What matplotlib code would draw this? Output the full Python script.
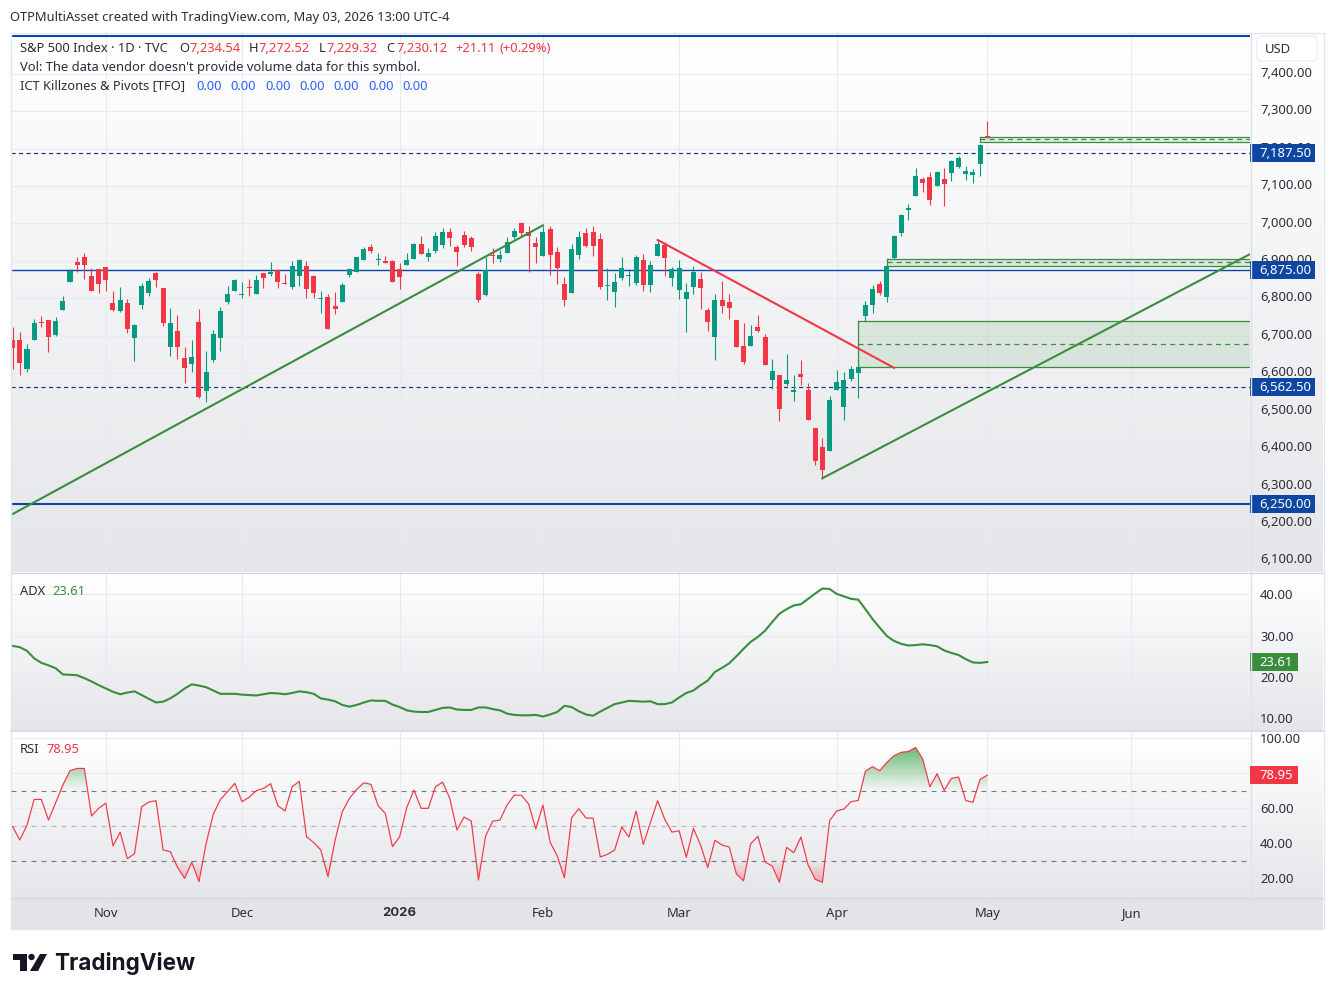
#!/usr/bin/env python
# S&P 500 daily candles with ADX and RSI panes, TradingView style
import numpy as np
import matplotlib; matplotlib.use('Agg')
import matplotlib.pyplot as plt
from matplotlib.path import Path
from matplotlib.patches import Polygon, Circle, Rectangle, FancyBboxPatch
from matplotlib.transforms import ScaledTranslation
from matplotlib.font_manager import FontProperties

plt.rcParams['font.family'] = ['Noto Sans', 'DejaVu Sans']
plt.rcParams['lines.scale_dashes'] = False

opens = [6688,6688,6611,6688,6737,6742,6702,6768,6843,6897,
         6910,6859,6878,6883,6787,6766,6787,6694,6782,6814,
         6867,6827,6670,6712,6640,6624,6736,6552,6635,6694,
         6790,6819,6809,6830,6811,6867,6865,6875,6841,6830,
         6859,6886,6859,6798,6803,6779,6790,6862,6870,6902,
         6937,6902,6900,6900,6878,6889,6905,6945,6910,6926,
         6942,6977,6937,6969,6961,6865,6809,6916,6905,6921,
         6964,7001,6977,6948,6913,6985,6924,6838,6814,6916,
         6975,6977,6958,6833,6817,6854,6860,6841,6902,6836,
         6913,6942,6854,6822,6798,6830,6852,6769,6697,6796,
         6790,6742,6673,6673,6723,6697,6582,6595,6571,6550,
         6598,6555,6453,6403,6392,6555,6510,6584,6600,6752,
         6782,6838,6803,6907,6974,7036,7073,7119,7124,7100,
         7119,7135,7151,7132,7129,7159,7234.54]
highs = [6724,6710,6678,6744,6752,6742,6750,6806,6878,6910,
         6921,6881,6878,6883,6819,6830,6798,6731,6841,6854,
         6870,6827,6774,6755,6670,6688,6771,6659,6715,6776,
         6833,6851,6843,6851,6862,6867,6897,6878,6865,6899,
         6905,6899,6862,6819,6811,6817,6841,6881,6910,6937,
         6945,6921,6913,6902,6894,6921,6948,6967,6934,6977,
         6988,6988,6942,6980,6966,6870,6910,6934,6929,6964,
         6988,7004,6993,6964,6993,6993,6937,6857,6945,6980,
         6988,6993,6975,6881,6868,6910,6878,6916,6918,6900,
         6956,6950,6884,6903,6841,6887,6870,6774,6812,6846,
         6812,6742,6734,6729,6755,6705,6638,6595,6651,6595,
         6635,6574,6453,6427,6539,6609,6603,6619,6620,6792,
         6835,6846,6890,6969,7025,7052,7148,7124,7137,7140,
         7148,7169,7180,7153,7145,7212,7272.52]
lows = [6611,6595,6603,6688,6724,6656,6699,6768,6843,6870,
        6851,6819,6814,6819,6766,6763,6707,6632,6771,6806,
        6830,6726,6645,6637,6573,6603,6533,6523,6629,6659,
        6784,6819,6801,6806,6811,6827,6859,6827,6838,6825,
        6833,6801,6801,6760,6718,6758,6790,6857,6870,6902,
        6921,6889,6894,6844,6825,6889,6905,6918,6900,6921,
        6934,6940,6886,6937,6926,6790,6806,6894,6897,6921,
        6958,6964,6870,6894,6913,6862,6838,6779,6814,6905,
        6937,6913,6825,6795,6777,6849,6833,6836,6820,6817,
        6913,6860,6833,6798,6710,6812,6772,6713,6635,6761,
        6745,6670,6625,6673,6710,6622,6558,6472,6566,6526,
        6568,6475,6355,6317,6392,6555,6475,6579,6533,6739,
        6760,6809,6790,6905,6966,7009,7073,7084,7049,7100,
        7046,7113,7148,7116,7108,7127,7229.32]
closes = [6668,6627,6664,6734,6734,6696,6739,6792,6874,6889,
          6889,6819,6838,6849,6768,6795,6718,6728,6833,6846,
          6849,6734,6734,6670,6613,6643,6536,6603,6704,6766,
          6811,6849,6811,6828,6849,6854,6870,6843,6838,6886,
          6902,6825,6814,6801,6718,6771,6836,6878,6910,6932,
          6926,6905,6894,6844,6857,6902,6945,6918,6921,6967,
          6977,6961,6924,6942,6937,6795,6875,6913,6916,6950,
          6980,6975,6966,6937,6977,6916,6881,6795,6932,6964,
          6940,6940,6830,6836,6844,6881,6862,6910,6836,6889,
          6945,6908,6878,6881,6817,6870,6828,6737,6796,6780,
          6774,6670,6630,6699,6713,6622,6606,6504,6582,6555,
          6590,6475,6365,6341,6528,6576,6582,6611,6616,6782,
          6825,6814,6886,6966,7022,7041,7127,7108,7062,7137,
          7105,7167,7175,7140,7137,7209.01,7230.12]

adx = [27.5,27.2,26.3,24.5,23.4,22.8,22.1,20.6,20.5,20.4,
       19.7,18.9,18.0,17.2,16.4,15.8,16.2,16.5,15.6,14.7,
       13.8,14.0,14.8,15.9,17.2,18.2,17.9,17.5,16.7,15.9,
       15.9,15.9,15.7,15.6,15.5,15.8,16.1,16.0,15.8,16.1,
       16.5,16.3,15.9,14.8,14.5,14.1,13.2,12.8,13.2,13.8,
       14.3,14.2,14.2,13.3,12.7,11.9,11.6,11.5,11.5,12.0,
       12.5,12.6,12.1,12.0,12.0,12.6,12.6,12.2,11.9,11.1,
       10.8,10.7,10.7,10.8,10.4,10.9,11.5,13.0,12.7,11.7,
       10.9,10.6,11.6,12.5,13.4,13.8,14.2,14.1,14.0,14.1,
       13.4,13.4,13.8,15.0,16.1,16.7,18.0,19.1,21.2,22.2,
       23.3,25.0,26.8,28.5,29.7,31.2,33.3,35.3,36.4,37.3,
       37.6,38.9,40.2,41.4,41.3,40.1,39.5,38.9,38.7,36.4,
       34.0,31.9,29.9,28.7,28.0,27.6,27.7,27.9,27.7,27.4,
       26.4,25.8,25.3,24.3,23.5,23.4,23.61]

rsi = [49.5,41.9,50.4,65.1,65.1,53.3,63.2,73.3,81.5,82.8,
       82.8,55.6,60.0,63.0,38.5,46.4,31.2,34.1,60.9,63.6,
       64.4,36.2,35.2,26.3,20.0,29.1,18.1,40.0,56.7,65.1,
       69.5,74.3,63.8,66.3,70.1,71.4,74.1,61.5,58.5,72.3,
       75.4,43.8,40.5,36.2,20.9,41.9,58.1,65.7,70.8,74.6,
       73.7,61.5,57.1,38.1,43.8,60.5,70.5,60.0,60.0,72.3,
       75.0,65.7,47.6,55.0,52.7,19.0,44.2,52.7,53.3,61.9,
       67.6,67.4,62.5,48.2,61.9,40.7,32.7,20.3,54.6,59.8,
       54.5,54.3,32.2,33.7,36.2,49.3,43.6,58.5,39.4,51.8,
       64.4,53.7,46.4,47.2,32.0,48.5,39.0,26.1,41.7,39.0,
       37.9,22.5,18.6,39.8,44.0,29.3,27.0,17.7,37.7,34.6,
       43.6,27.6,19.4,17.7,52.9,58.5,59.6,63.8,64.5,81.3,
       83.8,81.5,86.3,90.1,92.0,92.5,94.8,88.2,72.3,79.8,
       70.3,77.1,77.9,64.5,63.4,76.5,78.95]

month_bars = [13, 32, 54, 74, 93, 115, 136, 156]
month_labels = ['Nov', 'Dec', '2026', 'Feb', 'Mar', 'Apr', 'May', 'Jun']
price_ticks = list(range(6100, 7500, 100))
adx_ticks = [10, 20, 30, 40]
rsi_ticks = [20, 40, 60, 80, 100]
rsi_labelled = ['20.00', '40.00', '60.00', '', '100.00']
solid_levels = [6875, 6250]
dashed_levels = [7187.5, 6562.5]
trend_up1 = ([-0.23, 74], [6221, 6995])
trend_up2 = ([113, 172.67], [6319, 6918])
trend_down = ([90, 123], [6956, 6614])
# start bar, top, middle, bottom
zones = [(118, 6738, 6677, 6615.5), (122, 6904, 6896, 6885.5), (135, 7230.5, 7225, 7218.5)]

GREEN = '#089981'
RED = '#f23645'
LINE_GREEN = '#388e3c'
BLUE = '#0d47a1'
TEXT = '#2a2e39'
GRID = '#e8eaef'
FS = 9.3
W, H = 1335, 997
XMIN, XMAX = -0.233, 172.67


def px_axes(fig, l, t, r, b):
    return fig.add_axes([l / W, 1 - b / H, (r - l) / W, (b - t) / H])


def background(fig, t, b, bottom_col):
    bg = px_axes(fig, 11, t, 1323, b)
    c1 = np.array(matplotlib.colors.to_rgb(bottom_col))
    f = np.linspace(0, 1, 128)[:, None, None]
    bg.imshow(1 + f * (c1 - 1), aspect='auto', extent=[0, 1, 0, 1], zorder=0)
    bg.axis('off')


def pane(fig, t, b, ylim, ticks, labels):
    ax = px_axes(fig, 11, t, 1250, b)
    ax.patch.set_alpha(0)
    for s in ax.spines.values():
        s.set_visible(False)
    ax.set_xlim(XMIN, XMAX)
    ax.set_ylim(*ylim)
    ax.yaxis.tick_right()
    ax.set_yticks(ticks, labels)
    ax.set_xticks(month_bars, [''] * len(month_bars))
    ax.tick_params(axis='both', length=0, labelsize=9.4, labelcolor=TEXT)
    ax.tick_params(axis='y', pad=7.2)
    ax.grid(True, color=GRID, lw=0.8)
    ax.set_axisbelow(True)
    return ax


def badge(ax, val, txt, col, wpx):
    # value tag on the price scale
    trans = ax.get_yaxis_transform()
    lo, hi = ax.get_ylim()
    hpx = ax.get_position().height * H
    unit = (hi - lo) / hpx
    ax.add_patch(Rectangle((1.0, val - 9 * unit), wpx / 1239, 18 * unit, transform=trans,
                           color=col, lw=0, clip_on=False, zorder=6))
    ax.text(1.0 + 9.5 / 1239, val - 0.5 * unit, txt, transform=trans, color='white', fontsize=9.4,
            va='center', ha='left', zorder=7, clip_on=False)


fig = plt.figure(figsize=(W / 100, H / 100), dpi=100, facecolor='white')

background(fig, 34, 572.5, '#e5e6e9')
background(fig, 573, 730, '#e5e6e9')
background(fig, 731, 897.5, '#e5e6e9')

ax = pane(fig, 34, 572.5, (6067, 7506.4), price_ticks, ['{:,.2f}'.format(p) for p in price_ticks])
ax2 = pane(fig, 573, 730, (7.14, 45.16), adx_ticks, ['%.2f' % v for v in adx_ticks])
ax3 = pane(fig, 731, 897.5, (9.03, 104.2), rsi_ticks, rsi_labelled)

# price scale labels sit a little above their grid lines
for t in ax.get_yticklabels():
    t.set_transform(t.get_transform() + ScaledTranslation(0, 1.3 / 72, fig.dpi_scale_trans))

# candles
bars = np.arange(len(closes))
o = np.array(opens); h = np.array(highs); l = np.array(lows); c = np.array(closes)
cols = [GREEN if c[i] >= o[i] else RED for i in bars]
ax.vlines(bars, l, h, colors=cols, lw=0.8, zorder=4)
ax.bar(bars, np.maximum(np.abs(c - o), 2.7), bottom=np.minimum(o, c), width=0.7, color=cols, lw=0, zorder=4)

# levels
ax.axhline(7500, color=BLUE, lw=1.5, zorder=3)
ax.axhline(solid_levels[0], color=BLUE, lw=1.0, zorder=3)
ax.axhline(solid_levels[1], color=BLUE, lw=1.5, zorder=3)
for lev in dashed_levels:
    ax.axhline(lev, color='#12367e', lw=0.85, ls=(0, (3, 2.4)), zorder=3)

# supply/demand zones
for start, top, mid, bot in zones:
    ax.add_patch(Rectangle((start, bot), XMAX - start + 5, top - bot, facecolor=LINE_GREEN,
                           alpha=0.12, lw=0, zorder=2))
    ax.plot([start, XMAX + 5, XMAX + 5, start, start], [top, top, bot, bot, top], color=LINE_GREEN, lw=0.9, zorder=3)
    ax.plot([start, XMAX + 5], [mid, mid], color=LINE_GREEN, lw=0.9, ls=(0, (3.6, 3)), zorder=3)

# trend lines
ax.plot(*trend_up1, color=LINE_GREEN, lw=1.5, zorder=5)
ax.plot(*trend_up2, color=LINE_GREEN, lw=1.5, zorder=5)
ax.plot(*trend_down, color=RED, lw=1.5, zorder=5)
ax.set_xlim(XMIN, XMAX)

# ADX
ax2.plot(bars, adx, color=LINE_GREEN, lw=1.5, zorder=4)

# RSI with gradient fill beyond the bands
r = np.array(rsi)
ax3.plot(bars, r, color=RED, lw=0.85, zorder=4)
ax3.axhline(70, color='#787b86', lw=0.8, ls=(0, (3.6, 3.6)), zorder=3)
ax3.axhline(50, color='#b2b5be', lw=0.8, ls=(0, (3.6, 3.6)), zorder=3)
ax3.axhline(30, color='#787b86', lw=0.8, ls=(0, (3.6, 3.6)), zorder=3)


def grad_fill(where, lev, end, col, amax):
    poly = ax3.fill_between(bars, r, lev, where=where, interpolate=True, facecolor='none', lw=0)
    path = Path.make_compound_path(*poly.get_paths())
    rgb = matplotlib.colors.to_rgb(col)
    img = np.zeros((64, 1, 4))
    img[:, :, :3] = rgb
    # first row is the top of the extent
    a = np.linspace(amax, 0, 64) if end > lev else np.linspace(0, amax, 64)
    img[:, 0, 3] = a
    im = ax3.imshow(img, extent=[XMIN, XMAX, min(lev, end), max(lev, end)], aspect='auto', zorder=2)
    im.set_clip_path(path, ax3.transData)


grad_fill(r >= 70, 70, 96, '#2e9e40', 0.75)
grad_fill(r <= 30, 30, 16, RED, 0.4)
ax3.set_xlim(XMIN, XMAX)
ax3.set_ylim(9.03, 104.2)

# time scale labels
ax3.set_xticks(month_bars, month_labels)
ax3.tick_params(axis='x', pad=11.2, labelsize=9.4)
for t in ax3.get_xticklabels():
    t.set_verticalalignment('center')
    t.set_color(TEXT)
    if t.get_text() == '2026':
        t.set_fontproperties(FontProperties(family='Inter', weight='bold', size=9.4))

# value tags
for lev, tag in zip([7187.5, 6875, 6562.5, 6250], ['7,187.50', '6,875.00', '6,562.50', '6,250.00']):
    badge(ax, lev, tag, BLUE, 65)
badge(ax2, adx[-1], '%.2f' % adx[-1], LINE_GREEN, 48)
badge(ax3, rsi[-1], '%.2f' % rsi[-1], RED, 48)

# overlay in pixel coordinates for texts, frame and logo
ov = fig.add_axes([0, 0, 1, 1])
ov.set_xlim(0, W)
ov.set_ylim(H, 0)
ov.axis('off')
ov.patch.set_alpha(0)

ov.add_patch(Rectangle((11, 897.5), 1312, 31, facecolor='#e3e4e7', lw=0, zorder=0.5))
ax3.set_zorder(ov.get_zorder() + 1)
ov.plot([11, 1323], [572.5, 572.5], color='#d6d8df', lw=1)
ov.plot([11, 1323], [730.5, 730.5], color='#d1d4dc', lw=1.2)
ov.plot([11, 1323], [897.5, 897.5], color='#d6d8df', lw=1)
ov.plot([1250.5, 1250.5], [34, 928], color='#dfe1e8', lw=1)
ov.add_patch(Rectangle((10.5, 33.5), 1313, 895, fill=False, edgecolor='#e4e6ec', lw=1))


def label(x, y, s, col=TEXT, **kw):
    ov.text(x, y + 1, s, color=col, fontsize=FS, va='center', ha='left', **kw)


label(10, 17, 'OTPMultiAsset created with TradingView.com, May 03, 2026 13:00 UTC-4')
label(20, 47, 'S&P 500 Index \u00b7 1D \u00b7 TVC')
for x, s, col in [(179.6, 'O', TEXT), (189, '7,234.54', RED), (249, 'H', TEXT), (258, '7,272.52', RED),
                  (319, 'L', TEXT), (326, '7,229.32', RED), (386, 'C', TEXT), (396, '7,230.12', RED),
                  (455, '+21.11', RED), (500, '(+0.29%)', RED)]:
    label(x, 47, s, col)
label(20, 66, "Vol: The data vendor doesn't provide volume data for this symbol.")
label(20, 85, 'ICT Killzones & Pivots [TFO]')
for x in [196, 230, 265, 299, 333.6, 368, 402]:
    label(x, 85, '0.00', '#2962ff')
label(20, 590, 'ADX')
label(52, 590, '%.2f' % adx[-1], LINE_GREEN)
label(20, 748, 'RSI')
label(46, 748, '%.2f' % rsi[-1], RED)

# currency button
ov.add_patch(FancyBboxPatch((1257, 36), 60, 25, boxstyle='round,pad=0,rounding_size=5',
                            facecolor='white', edgecolor='#eceef2', lw=1, zorder=5))
ov.text(1265, 49.5, 'USD', color=TEXT, fontsize=9.4, va='center', ha='left', zorder=6)

# logo
LOGO = '#131722'
ov.add_patch(Polygon([(13, 954), (27, 954), (27, 971), (20, 971), (20, 960), (13, 960)], color=LOGO, lw=0))
ov.add_patch(Circle((31.5, 957), 3.2, color=LOGO, lw=0))
ov.add_patch(Polygon([(40, 954), (47, 954), (38, 971), (30, 971)], color=LOGO, lw=0))
ov.text(54, 963, 'TradingView', color=LOGO, fontsize=16.2, fontweight='bold', family='Inter', va='center', ha='left')

fig.savefig('out.png', dpi=100)
